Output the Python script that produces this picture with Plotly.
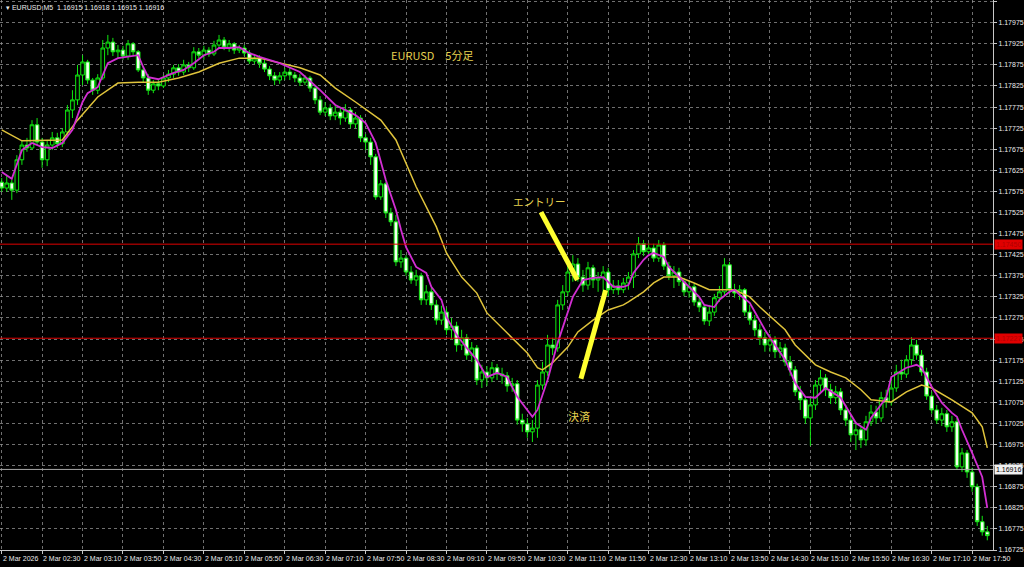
import plotly.graph_objects as go

# ---------------- data (EURUSD M5, 2 Mar 2026) ----------------
bar_index = list(range(196))

opens = [1.17597, 1.17583, 1.17595, 1.17578, 1.17650, 1.17685, 1.17678, 1.17733, 1.17692, 1.17650,
         1.17685, 1.17702, 1.17688, 1.17716, 1.17768, 1.17792, 1.17851, 1.17882, 1.17839, 1.17815,
         1.17844, 1.17915, 1.17929, 1.17906, 1.17910, 1.17896, 1.17925, 1.17906, 1.17863, 1.17844,
         1.17815, 1.17830, 1.17825, 1.17844, 1.17853, 1.17868, 1.17858, 1.17875, 1.17868, 1.17906,
         1.17898, 1.17910, 1.17901, 1.17922, 1.17934, 1.17917, 1.17925, 1.17910, 1.17915, 1.17903,
         1.17884, 1.17891, 1.17879, 1.17865, 1.17849, 1.17839, 1.17849, 1.17858, 1.17851, 1.17844,
         1.17834, 1.17844, 1.17820, 1.17792, 1.17763, 1.17773, 1.17754, 1.17763, 1.17749, 1.17768,
         1.17735, 1.17749, 1.17702, 1.17692, 1.17657, 1.17562, 1.17593, 1.17524, 1.17503, 1.17408,
         1.17417, 1.17384, 1.17365, 1.17375, 1.17318, 1.17337, 1.17306, 1.17270, 1.17289, 1.17247,
         1.17256, 1.17211, 1.17228, 1.17187, 1.17204, 1.17128, 1.17147, 1.17133, 1.17157, 1.17142,
         1.17138, 1.17114, 1.17119, 1.17033, 1.17024, 1.17005, 1.17014, 1.17116, 1.17147, 1.17211,
         1.17204, 1.17306, 1.17337, 1.17384, 1.17403, 1.17372, 1.17353, 1.17394, 1.17365, 1.17370,
         1.17384, 1.17342, 1.17351, 1.17342, 1.17358, 1.17372, 1.17427, 1.17451, 1.17432, 1.17441,
         1.17417, 1.17448, 1.17398, 1.17375, 1.17384, 1.17361, 1.17337, 1.17349, 1.17313, 1.17301,
         1.17268, 1.17289, 1.17323, 1.17337, 1.17401, 1.17342, 1.17334, 1.17342, 1.17289, 1.17270,
         1.17247, 1.17228, 1.17211, 1.17223, 1.17195, 1.17204, 1.17171, 1.17152, 1.17100, 1.17081,
         1.17038, 1.17069, 1.17116, 1.17133, 1.17105, 1.17086, 1.17100, 1.17057, 1.17033, 1.16998,
         1.17010, 1.16986, 1.17029, 1.17052, 1.17038, 1.17086, 1.17076, 1.17109, 1.17147, 1.17142,
         1.17176, 1.17211, 1.17187, 1.17147, 1.17090, 1.17057, 1.17033, 1.17048, 1.17017, 1.17029,
         1.16922, 1.16955, 1.16910, 1.16875, 1.16792, 1.16768]

highs = [1.17607, 1.17612, 1.17602, 1.17661, 1.17697, 1.17702, 1.17744, 1.17749, 1.17702, 1.17697,
         1.17716, 1.17714, 1.17725, 1.17780, 1.17815, 1.17875, 1.17898, 1.17887, 1.17844, 1.17853,
         1.17934, 1.17946, 1.17939, 1.17922, 1.17920, 1.17934, 1.17929, 1.17910, 1.17872, 1.17853,
         1.17839, 1.17839, 1.17851, 1.17863, 1.17875, 1.17877, 1.17887, 1.17882, 1.17917, 1.17915,
         1.17920, 1.17917, 1.17932, 1.17946, 1.17941, 1.17934, 1.17929, 1.17922, 1.17922, 1.17910,
         1.17901, 1.17898, 1.17887, 1.17872, 1.17858, 1.17858, 1.17868, 1.17868, 1.17858, 1.17853,
         1.17851, 1.17849, 1.17827, 1.17801, 1.17787, 1.17782, 1.17778, 1.17773, 1.17782, 1.17773,
         1.17763, 1.17756, 1.17711, 1.17702, 1.17664, 1.17602, 1.17597, 1.17536, 1.17519, 1.17436,
         1.17424, 1.17398, 1.17389, 1.17382, 1.17353, 1.17346, 1.17318, 1.17304, 1.17299, 1.17275,
         1.17266, 1.17247, 1.17237, 1.17218, 1.17211, 1.17164, 1.17161, 1.17171, 1.17166, 1.17157,
         1.17147, 1.17133, 1.17128, 1.17048, 1.17038, 1.17033, 1.17128, 1.17171, 1.17235, 1.17228,
         1.17318, 1.17353, 1.17408, 1.17424, 1.17417, 1.17389, 1.17408, 1.17401, 1.17384, 1.17398,
         1.17394, 1.17365, 1.17365, 1.17370, 1.17384, 1.17436, 1.17467, 1.17460, 1.17453, 1.17451,
         1.17460, 1.17455, 1.17408, 1.17398, 1.17394, 1.17370, 1.17365, 1.17356, 1.17325, 1.17308,
         1.17306, 1.17332, 1.17351, 1.17417, 1.17408, 1.17356, 1.17353, 1.17346, 1.17306, 1.17282,
         1.17261, 1.17242, 1.17237, 1.17232, 1.17218, 1.17214, 1.17185, 1.17161, 1.17114, 1.17090,
         1.17086, 1.17128, 1.17152, 1.17142, 1.17119, 1.17114, 1.17109, 1.17069, 1.17043, 1.17029,
         1.17019, 1.17043, 1.17069, 1.17067, 1.17100, 1.17105, 1.17128, 1.17164, 1.17176, 1.17187,
         1.17230, 1.17223, 1.17199, 1.17157, 1.17100, 1.17069, 1.17062, 1.17057, 1.17043, 1.17038,
         1.16967, 1.16962, 1.16920, 1.16882, 1.16806, 1.16782]

lows = [1.17574, 1.17574, 1.17555, 1.17571, 1.17638, 1.17669, 1.17673, 1.17685, 1.17631, 1.17635,
        1.17673, 1.17678, 1.17680, 1.17707, 1.17749, 1.17780, 1.17827, 1.17830, 1.17804, 1.17806,
        1.17839, 1.17898, 1.17896, 1.17891, 1.17887, 1.17887, 1.17896, 1.17858, 1.17834, 1.17804,
        1.17808, 1.17815, 1.17820, 1.17834, 1.17844, 1.17849, 1.17851, 1.17858, 1.17863, 1.17891,
        1.17887, 1.17894, 1.17896, 1.17915, 1.17910, 1.17906, 1.17901, 1.17903, 1.17896, 1.17877,
        1.17877, 1.17868, 1.17858, 1.17839, 1.17827, 1.17830, 1.17839, 1.17839, 1.17834, 1.17825,
        1.17827, 1.17811, 1.17782, 1.17756, 1.17754, 1.17744, 1.17744, 1.17733, 1.17740, 1.17725,
        1.17725, 1.17692, 1.17673, 1.17638, 1.17555, 1.17555, 1.17512, 1.17493, 1.17398, 1.17394,
        1.17375, 1.17356, 1.17351, 1.17306, 1.17306, 1.17294, 1.17259, 1.17259, 1.17235, 1.17223,
        1.17195, 1.17199, 1.17176, 1.17171, 1.17116, 1.17109, 1.17114, 1.17123, 1.17128, 1.17119,
        1.17100, 1.17100, 1.17022, 1.17005, 1.16991, 1.16981, 1.16991, 1.17105, 1.17138, 1.17187,
        1.17195, 1.17294, 1.17327, 1.17361, 1.17361, 1.17337, 1.17342, 1.17346, 1.17337, 1.17327,
        1.17327, 1.17332, 1.17330, 1.17334, 1.17342, 1.17346, 1.17417, 1.17422, 1.17422, 1.17408,
        1.17408, 1.17389, 1.17365, 1.17346, 1.17351, 1.17327, 1.17323, 1.17304, 1.17289, 1.17259,
        1.17256, 1.17280, 1.17313, 1.17327, 1.17332, 1.17323, 1.17318, 1.17280, 1.17259, 1.17232,
        1.17211, 1.17195, 1.17195, 1.17180, 1.17180, 1.17161, 1.17138, 1.17090, 1.17057, 1.17024,
        1.16972, 1.17057, 1.17100, 1.17090, 1.17071, 1.17071, 1.17045, 1.17019, 1.16981, 1.16962,
        1.16967, 1.16972, 1.17019, 1.17024, 1.17029, 1.17062, 1.17067, 1.17100, 1.17128, 1.17133,
        1.17164, 1.17176, 1.17138, 1.17081, 1.17048, 1.17024, 1.17019, 1.17005, 1.17005, 1.16915,
        1.16910, 1.16896, 1.16863, 1.16782, 1.16759, 1.16748]

closes = [1.17583, 1.17595, 1.17578, 1.17650, 1.17685, 1.17678, 1.17733, 1.17692, 1.17650, 1.17685,
          1.17702, 1.17688, 1.17716, 1.17768, 1.17792, 1.17851, 1.17882, 1.17839, 1.17815, 1.17844,
          1.17915, 1.17929, 1.17906, 1.17910, 1.17896, 1.17925, 1.17906, 1.17863, 1.17844, 1.17815,
          1.17830, 1.17825, 1.17844, 1.17853, 1.17868, 1.17858, 1.17875, 1.17868, 1.17906, 1.17898,
          1.17910, 1.17901, 1.17922, 1.17934, 1.17917, 1.17925, 1.17910, 1.17915, 1.17903, 1.17884,
          1.17891, 1.17879, 1.17865, 1.17849, 1.17839, 1.17849, 1.17858, 1.17851, 1.17844, 1.17834,
          1.17844, 1.17820, 1.17792, 1.17763, 1.17773, 1.17754, 1.17763, 1.17749, 1.17768, 1.17735,
          1.17749, 1.17702, 1.17692, 1.17657, 1.17562, 1.17593, 1.17524, 1.17503, 1.17408, 1.17417,
          1.17384, 1.17365, 1.17375, 1.17318, 1.17337, 1.17306, 1.17270, 1.17289, 1.17247, 1.17256,
          1.17211, 1.17228, 1.17187, 1.17204, 1.17128, 1.17147, 1.17133, 1.17157, 1.17142, 1.17138,
          1.17114, 1.17119, 1.17033, 1.17024, 1.17005, 1.17014, 1.17116, 1.17147, 1.17211, 1.17204,
          1.17306, 1.17337, 1.17384, 1.17403, 1.17372, 1.17353, 1.17394, 1.17365, 1.17370, 1.17384,
          1.17342, 1.17351, 1.17342, 1.17358, 1.17372, 1.17427, 1.17451, 1.17432, 1.17441, 1.17417,
          1.17448, 1.17398, 1.17375, 1.17384, 1.17361, 1.17337, 1.17349, 1.17313, 1.17301, 1.17268,
          1.17289, 1.17323, 1.17337, 1.17401, 1.17342, 1.17334, 1.17342, 1.17289, 1.17270, 1.17247,
          1.17228, 1.17211, 1.17223, 1.17195, 1.17204, 1.17171, 1.17152, 1.17100, 1.17081, 1.17038,
          1.17069, 1.17116, 1.17133, 1.17105, 1.17086, 1.17100, 1.17057, 1.17033, 1.16998, 1.17010,
          1.16986, 1.17029, 1.17052, 1.17038, 1.17086, 1.17076, 1.17109, 1.17147, 1.17142, 1.17176,
          1.17211, 1.17187, 1.17147, 1.17090, 1.17057, 1.17033, 1.17048, 1.17017, 1.17029, 1.16922,
          1.16955, 1.16910, 1.16875, 1.16792, 1.16768, 1.16759]

# fast moving average (magenta), read at these bar positions
fast_ma_idx = [0, 2, 4, 6, 8, 10, 12, 14, 16, 17, 19, 21, 23, 25, 27, 28, 29, 31, 32, 34,
               36, 38, 40, 42, 43, 45, 47, 49, 51, 53, 55, 59, 63, 66, 70, 72, 74, 76, 78, 79,
               80, 82, 84, 85, 87, 88, 90, 92, 94, 96, 98, 100, 102, 105, 106, 108, 110, 113, 115, 117,
               119, 121, 123, 124, 125, 127, 128, 129, 131, 132, 134, 136, 138, 139, 141, 142, 144, 145, 146, 148,
               150, 151, 153, 155, 157, 159, 161, 163, 166, 169, 171, 172, 175, 176, 179, 181, 182, 184, 186, 188,
               189, 190, 192, 194, 195]
fast_ma = [1.17621, 1.17605, 1.17673, 1.17690, 1.17680, 1.17678, 1.17690, 1.17721, 1.17787, 1.17808,
           1.17822, 1.17879, 1.17891, 1.17894, 1.17898, 1.17870, 1.17846, 1.17841, 1.17846, 1.17856,
           1.17863, 1.17879, 1.17898, 1.17906, 1.17915, 1.17915, 1.17917, 1.17903, 1.17894, 1.17887,
           1.17879, 1.17858, 1.17815, 1.17780, 1.17756, 1.17737, 1.17690, 1.17602, 1.17531, 1.17484,
           1.17443, 1.17396, 1.17382, 1.17349, 1.17318, 1.17277, 1.17235, 1.17204, 1.17176, 1.17135,
           1.17145, 1.17135, 1.17088, 1.17041, 1.17057, 1.17128, 1.17216, 1.17325, 1.17365, 1.17370,
           1.17372, 1.17349, 1.17349, 1.17353, 1.17382, 1.17413, 1.17424, 1.17429, 1.17420, 1.17396,
           1.17372, 1.17349, 1.17325, 1.17306, 1.17301, 1.17318, 1.17337, 1.17342, 1.17330, 1.17311,
           1.17270, 1.17247, 1.17211, 1.17176, 1.17121, 1.17088, 1.17086, 1.17109, 1.17086, 1.17026,
           1.17010, 1.17038, 1.17086, 1.17135, 1.17157, 1.17164, 1.17157, 1.17112, 1.17074, 1.17050,
           1.17041, 1.17010, 1.16955, 1.16898, 1.16825]

# slow moving average (yellow), read at these bar positions
slow_ma_idx = [0, 4, 12, 15, 19, 23, 27, 31, 35, 39, 43, 47, 51, 55, 59, 63, 66, 70, 75, 78,
               82, 86, 88, 91, 94, 96, 100, 104, 106, 107, 109, 112, 114, 117, 120, 123, 124, 127, 129, 131,
               134, 137, 140, 142, 145, 148, 150, 155, 157, 161, 164, 167, 170, 172, 176, 179, 182, 184, 188, 192,
               194, 195]
slow_ma = [1.17721, 1.17695, 1.17697, 1.17744, 1.17799, 1.17832, 1.17834, 1.17834, 1.17844, 1.17858,
           1.17879, 1.17891, 1.17891, 1.17879, 1.17868, 1.17851, 1.17820, 1.17787, 1.17744, 1.17697,
           1.17586, 1.17491, 1.17429, 1.17372, 1.17334, 1.17287, 1.17240, 1.17192, 1.17157, 1.17152,
           1.17169, 1.17206, 1.17242, 1.17270, 1.17294, 1.17306, 1.17313, 1.17337, 1.17358, 1.17372,
           1.17372, 1.17358, 1.17342, 1.17342, 1.17342, 1.17325, 1.17301, 1.17247, 1.17211, 1.17164,
           1.17147, 1.17133, 1.17105, 1.17081, 1.17076, 1.17100, 1.17116, 1.17109, 1.17081, 1.17050,
           1.17017, 1.16967]

time_tick_idx = [0, 8, 16, 24, 32, 40, 48, 56, 64, 72, 80, 88, 96, 104, 112, 120, 128,
                 136, 144, 152, 160, 168, 176, 184, 192]
time_labels = ["2 Mar 2026", "2 Mar 02:30", "2 Mar 03:10", "2 Mar 03:50", "2 Mar 04:30",
               "2 Mar 05:10", "2 Mar 05:50", "2 Mar 06:30", "2 Mar 07:10", "2 Mar 07:50",
               "2 Mar 08:30", "2 Mar 09:10", "2 Mar 09:50", "2 Mar 10:30", "2 Mar 11:10",
               "2 Mar 11:50", "2 Mar 12:30", "2 Mar 13:10", "2 Mar 13:50", "2 Mar 14:30",
               "2 Mar 15:10", "2 Mar 15:50", "2 Mar 16:30", "2 Mar 17:10", "2 Mar 17:50"]

red_levels = [1.17450, 1.17227]
bid_level = 1.16916
header_text = "EURUSD,M5  1.16915 1.16918 1.16915 1.16916"

# annotation arrows (bar index, price)
entry_line = [(106.7, 1.17526), (113.9, 1.17365)]
exit_line = [(119.5, 1.17341), (114.6, 1.17131)]

# ---------------- figure ----------------
GRID = "rgba(150,150,150,0.75)"
AXIS = "#c8c8c8"
TXT = "#e6d250"
CANDLE = "#10e810"
SMALL = dict(family="Liberation Sans, Arial, sans-serif", size=7, color="#ececec")

fig = go.Figure()
fig.add_trace(go.Candlestick(
    x=bar_index, open=opens, high=highs, low=lows, close=closes,
    increasing=dict(line=dict(color=CANDLE, width=1), fillcolor="#000000"),
    decreasing=dict(line=dict(color=CANDLE, width=1), fillcolor="#f4fff0"),
    whiskerwidth=0, showlegend=False, hoverinfo="skip"))
fig.add_trace(go.Scatter(x=slow_ma_idx, y=slow_ma, mode="lines",
                         line=dict(color="#e0c43c", width=1.5), showlegend=False, hoverinfo="skip"))
fig.add_trace(go.Scatter(x=fast_ma_idx, y=fast_ma, mode="lines",
                         line=dict(color="#d22ed2", width=1.8), showlegend=False, hoverinfo="skip"))

for lv in red_levels:
    fig.add_shape(type="line", xref="paper", x0=0, x1=1, yref="y", y0=lv, y1=lv,
                  line=dict(color="#e00000", width=1))
    fig.add_annotation(xref="paper", x=1.0, yref="y", y=lv, xanchor="left", yanchor="middle",
                       xshift=1, text="%.5f" % lv, showarrow=False, bgcolor="#e00000",
                       font=dict(family=SMALL["family"], size=7, color="#b00000"), borderpad=1)
fig.add_shape(type="line", xref="paper", x0=0, x1=1, yref="y", y0=bid_level, y1=bid_level,
              line=dict(color="#a8a8a8", width=1))
fig.add_annotation(xref="paper", x=1.0, yref="y", y=bid_level, xanchor="left", yanchor="middle",
                   xshift=1, text="%.5f" % bid_level, showarrow=False, bgcolor="#f0f0f0",
                   font=dict(family=SMALL["family"], size=7, color="#000000"), borderpad=1)

for (p0, p1) in (entry_line, exit_line):
    fig.add_shape(type="line", xref="x", yref="y", x0=p0[0], y0=p0[1], x1=p1[0], y1=p1[1],
                  line=dict(color="#ffff30", width=5))

for ti, tl in zip(time_tick_idx, time_labels):
    fig.add_annotation(xref="x", x=ti, yref="paper", y=0, xanchor="left", yanchor="top",
                       xshift=-1, yshift=-3, text=tl, showarrow=False, font=SMALL)

fig.add_annotation(xref="paper", x=0.004, yref="paper", y=1.0, xanchor="left", yanchor="top",
                   yshift=-2, text="▾ " + header_text, showarrow=False, font=SMALL)
fig.add_annotation(xref="paper", x=0.4355, yref="paper", y=0.90, xanchor="center", yanchor="middle",
                   text="EURUSD　5分足", showarrow=False,
                   font=dict(family="Noto Sans CJK JP", size=11, color=TXT))
fig.add_annotation(xref="paper", x=0.543, yref="paper", y=0.633, xanchor="center", yanchor="middle",
                   text="エントリー", showarrow=False,
                   font=dict(family="Noto Sans CJK JP", size=10.5, color=TXT))
fig.add_annotation(xref="paper", x=0.5835, yref="paper", y=0.2436, xanchor="center", yanchor="middle",
                   text="決済", showarrow=False,
                   font=dict(family="Noto Sans CJK JP", size=11, color=TXT))

fig.update_layout(
    width=1024, height=567, paper_bgcolor="#000000", plot_bgcolor="#000000",
    margin=dict(l=0, r=24, t=0, b=17), showlegend=False,
    boxgap=0.2, boxgroupgap=0.1,
    xaxis=dict(range=[-0.334, 196.13], rangeslider=dict(visible=False),
               tickmode="array", tickvals=time_tick_idx, showticklabels=False,
               ticks="outside", ticklen=3, tickcolor=AXIS,
               showgrid=True, gridcolor=GRID, griddash="dot", gridwidth=1,
               showline=True, linecolor=AXIS, linewidth=1, zeroline=False, fixedrange=True),
    yaxis=dict(range=[1.16725, 1.180288], side="right", tick0=1.16725, dtick=0.0005,
               tickformat=".5f", ticks="outside", ticklen=3, tickcolor=AXIS,
               tickfont=SMALL, showgrid=True, gridcolor=GRID, griddash="dot", gridwidth=1,
               showline=True, linecolor=AXIS, linewidth=1, zeroline=False, fixedrange=True),
)

fig.write_html("out.html", config={"displayModeBar": False},
               post_script="document.body.style.margin='0';document.body.style.overflow='hidden';")
